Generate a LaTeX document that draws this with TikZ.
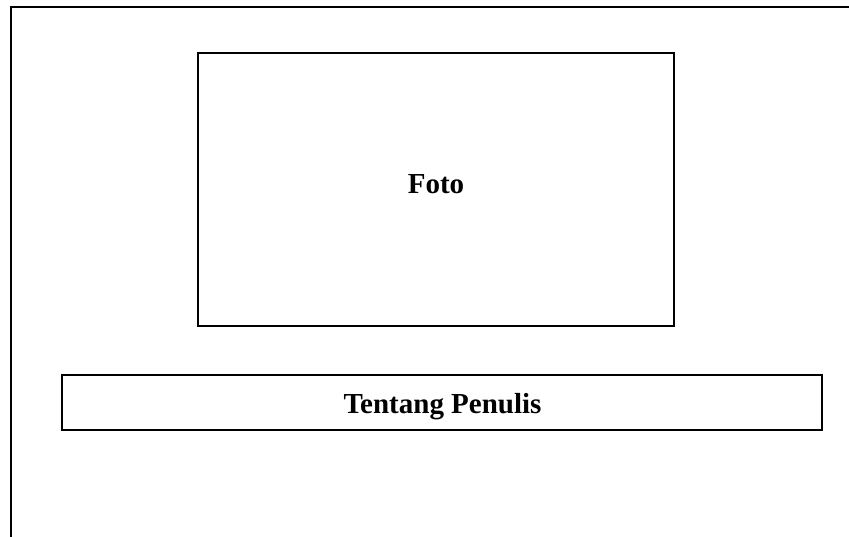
\documentclass[tikz,border=0pt]{standalone}
\usepackage{fontspec}
\setmainfont{Liberation Serif}
\usetikzlibrary{positioning}

\begin{document}
\begin{tikzpicture}[x=1pt,y=-1pt,line width=2pt]
				\fontsize{29}{35}\selectfont\bfseries
				\useasboundingbox (0,0) rectangle (849,537);
				\draw (849,7) -- (11,7) -- (11,537);
				
				\node (foto) at (436,189.5) [draw, rectangle, minimum width=476pt, minimum height=273pt] {};
				\node (penulis) at (442,402.5) [draw, rectangle, minimum width=760pt, minimum height=55pt] {};
				
				\node (fotolabel) [anchor=base] at (436,194) {Foto};
				\node (penulislabel) [anchor=base] at (442.5,413) {Tentang Penulis};
			\end{tikzpicture}
\end{document}
